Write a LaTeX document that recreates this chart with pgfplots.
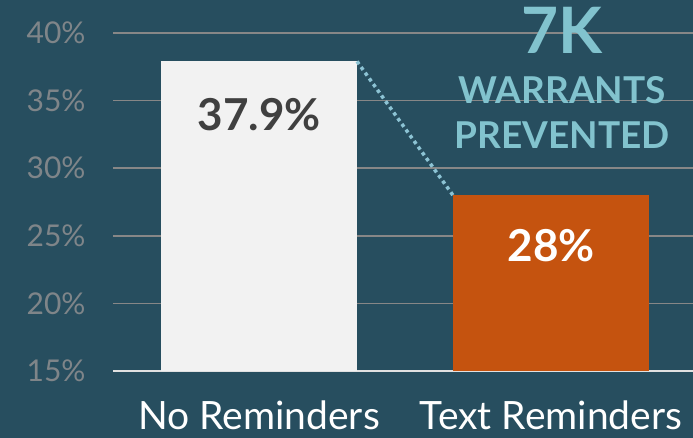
\documentclass[border=0pt]{standalone}
\usepackage{fontspec}
\setmainfont{Lato}
\usepackage{pgfplots}
\pgfplotsset{compat=1.18}

\definecolor{bg}{HTML}{274E5F}
\definecolor{gridc}{HTML}{878787}
\definecolor{tickc}{HTML}{7F8589}
\definecolor{barA}{HTML}{F2F2F2}
\definecolor{barB}{HTML}{C5530F}
\definecolor{accent}{HTML}{82C3CE}
\definecolor{dots}{HTML}{8CC3D4}

\begin{document}
\begin{tikzpicture}
\fill[bg] (-113pt,-67pt) rectangle (580pt,371pt);
\useasboundingbox (-113pt,-67pt) rectangle (580pt,371pt);
\begin{axis}[
    at={(0pt,0pt)}, anchor=south west,
    scale only axis, width=580pt, height=338pt,
    ybar, bar width=196pt, bar shift=0pt,
    xmin=-0.5, xmax=1.486, ymin=15, ymax=40,
    xtick={0,1}, xticklabels={No Reminders, Text Reminders},
    ytick={15,20,25,30,35,40},
    yticklabels={15\%,20\%,25\%,30\%,35\%,40\%},
    major tick length=0pt,
    axis x line*=bottom, axis y line*=left,
    x axis line style={draw=barA!85!gray, line width=2pt, -},
    y axis line style={draw=none},
    ymajorgrids, grid style={gridc, line width=1.5pt},
    /pgf/number format/assume math mode=true,
    yticklabel style={font=\fontsize{30}{30}\selectfont, text=tickc, xshift=-24pt},
    xticklabel style={font=\fontsize{39}{39}\selectfont, text=white, yshift=-26pt},
    clip=false,
]
\addplot[fill=barA, draw=none,
    nodes near coords={\pgfmathprintnumber{\pgfplotspointmeta}\%},
    every node near coord/.append style={anchor=center, yshift=-53pt,
        font=\fontsize{44}{44}\selectfont\bfseries, text=black!75}]
    coordinates {(0,37.9)};
\addplot[fill=barB, draw=none,
    nodes near coords={\pgfmathprintnumber{\pgfplotspointmeta}\%},
    every node near coord/.append style={anchor=center, yshift=-50pt,
        font=\fontsize{44}{44}\selectfont\bfseries, text=white}]
    coordinates {(1,28)};
\addplot[sharp plot, draw=dots, line width=3.5pt, dash pattern=on 3.5pt off 3.5pt]
    coordinates {(0.3356,37.9) (0.664,28)};
\node[text=accent, font=\fontsize{64}{64}\selectfont\bfseries] at (axis cs:1.038,40.2) {7K};
\node[text=accent, font=\fontsize{37}{37}\selectfont\bfseries] at (axis cs:1.038,35.75) {WARRANTS};
\node[text=accent, font=\fontsize{37}{37}\selectfont\bfseries] at (axis cs:1.038,32.42) {PREVENTED};
\end{axis}
\end{tikzpicture}
\end{document}
